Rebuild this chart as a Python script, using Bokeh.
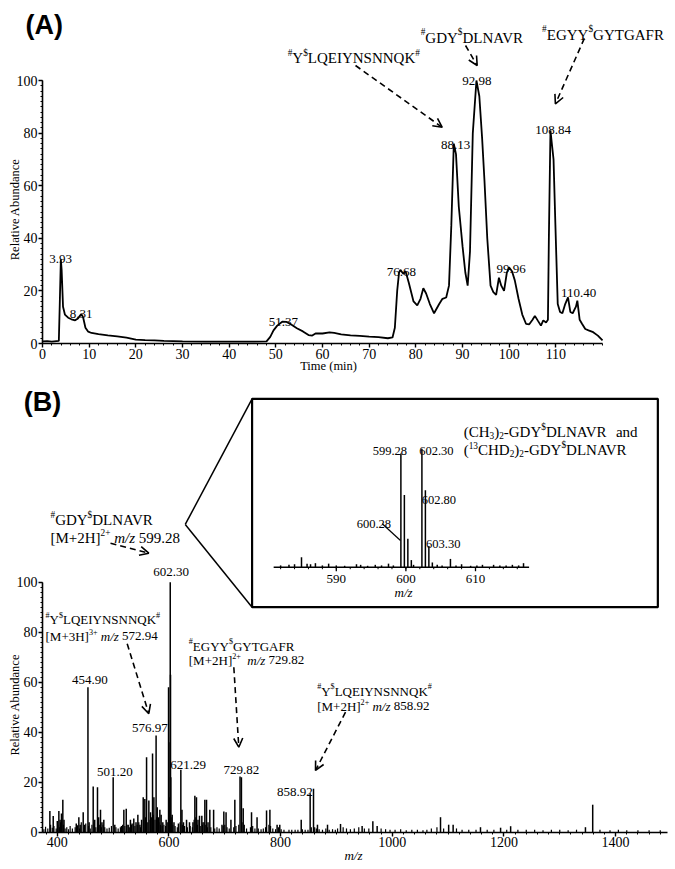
import math
from bokeh.plotting import figure
from bokeh.layouts import column
from bokeh.models import Range1d, FixedTicker, Arrow, OpenHead, ColumnDataSource
from bokeh.core.properties import value
from bokeh.embed import file_html
from bokeh.resources import INLINE

SERIF = "Liberation Serif"
SANS = "Liberation Sans"

# ---------------- DATA ----------------
# (A) chromatogram
rt_min = [0.0, 1.0, 2.0, 3.0, 3.5, 3.7, 3.93, 4.1, 4.4, 4.8, 5.5, 6.2, 7.0, 7.6, 8.0, 8.31, 8.7, 9.2, 9.8,
          10.5, 12, 14, 16, 18, 20, 22, 24, 26, 28, 30, 35, 40, 45, 48, 48.8, 49.5, 50.3, 51.37, 52.3,
          53.2, 54.5, 55.8, 57, 57.8, 58.5, 60, 61.5, 62.5, 64, 66, 68, 70, 72, 74, 75, 75.5, 76.0, 76.4,
          76.68, 77.3, 77.8, 78.5, 79.5, 80.3, 81.0, 81.6, 82.2, 83, 83.9, 85, 85.7, 86.5, 87.1, 87.6,
          88.13, 88.6, 89.2, 90.0, 90.6, 91.1, 91.6, 92.2, 92.98, 93.6, 94.2, 94.7, 95.3, 96.0, 96.6,
          97.2, 97.8, 98.3, 98.9, 99.5, 99.96, 100.6, 101.2, 102, 102.8, 103.6, 104.3, 105.0, 105.5,
          106.2, 106.8, 107.3, 107.9, 108.3, 108.5, 108.84, 109.2, 109.5, 109.9, 110.4, 110.9, 111.4,
          112.0, 112.6, 113.1, 113.6, 114.3, 114.6, 115.1, 115.6, 116.3, 117.0, 118.0, 119.0, 120.0]
rt_abund = [0.8, 0.9, 0.7, 0.9, 1.0, 15, 32, 28, 14, 11, 9.8, 9.2, 8.8, 9.5, 10.5, 11.2, 10, 6, 4.5,
            4, 3.6, 3.1, 2.7, 2.2, 1.5, 1.3, 1.2, 1.0, 0.9, 0.8, 0.7, 0.7, 0.7, 0.8, 2.5, 5, 6.8, 8.3, 8.2,
            7.3, 5.8, 4.6, 3.2, 3.0, 3.8, 3.8, 4.2, 4.0, 3.5, 3.1, 2.9, 2.6, 2.4, 2.0, 2.3, 6, 20, 27,
            28, 26.5, 27.5, 23, 16, 14.5, 17, 21, 19, 15, 11.5, 15, 17, 17.5, 22, 45,
            76, 72, 52, 37, 27, 22, 35, 80, 100, 94, 78, 62, 40, 22, 19.5,
            18.5, 25, 22, 20, 27, 29, 27.5, 24, 17, 11, 7.5, 7.3, 9, 10.5,
            8.5, 6.8, 8.8, 8, 9, 40, 81, 75, 70, 45, 15, 12, 11.5,
            15, 17.5, 12, 11.5, 14, 16.3, 9, 7.5, 5.5, 5, 4.3, 3, 1.2]
rt_label_text = ["3.93", "8.31", "51.37", "76.68", "88.13", "92.98", "108.84", "99.96", "110.40"]
rt_label_x = [3.86, 8.29, 51.6, 76.9, 88.5, 93.1, 109.4, 100.4, 114.9]
rt_label_y = [32.2, 11.1, 8.3, 27.1, 75.5, 99.8, 81.2, 28.4, 19.1]
rt_x_ticks = [0, 10, 20, 30, 40, 50, 60, 70, 80, 90, 100, 110]
rt_x_minor = list(range(0, 121, 2))
pct_ticks = [0, 20, 40, 60, 80, 100]
pct_minor = list(range(0, 101, 2))

# (B) mass spectrum
ms_mz = [386.7, 392.7, 400, 402.8, 405, 407.5, 409.9, 412, 434, 438.6, 441, 446.4, 449, 454.9, 457,
         464.3, 467, 472, 474, 477.4, 480, 483.3, 500.1, 503, 515, 519.2, 523.5, 527, 531, 534, 537,
         541, 544.3, 548, 551, 553.9, 556.8, 559.9, 564, 567, 570.6, 573, 576.97, 579, 581, 583.7, 586,
         589, 595, 599.28, 599.78, 600.28, 602.30, 602.80, 603.30, 603.8, 605.8, 609, 617, 621.29,
         623.3, 626, 631.5, 636.8, 643, 646.4, 649.3, 652, 654.7, 658.9, 661, 664.3, 667.3, 670, 673.2,
         680, 695, 698.3, 702.3, 711, 718, 727.3, 729.82, 733, 747.9, 757.8, 774.8, 780.8, 793.7,
         798.5, 836.9, 852.9, 858.92, 866, 884, 907.3, 946, 965.2, 972.9, 1086.4, 1101, 1109, 1158,
         1194, 1212, 1346, 1359]
ms_abund = [8.5, 6.5, 4.5, 8.5, 5, 7.5, 13, 5, 3.5, 6, 3, 8, 3, 58, 4,
            18.3, 5, 18, 6, 9, 4, 5, 22, 3, 2.5, 9, 9.4, 3, 5, 3.5, 5.5,
            4, 7, 3, 5, 14, 13.3, 30, 12.7, 8, 31.5, 14, 38.7, 10, 6, 9, 7,
            4, 5, 58, 36, 14, 100, 63, 22, 6, 7, 4, 3.5, 25,
            9, 4, 5, 4, 4, 14.6, 14, 5, 6.6, 6.6, 4, 13, 13, 4, 9,
            9, 3, 8.3, 8, 5, 13, 22.3, 22, 9.6, 8, 6, 8.7, 9, 3,
            3, 5, 15.6, 17.4, 3, 3, 3.3, 2.5, 4.4, 2.5, 6, 3, 3, 2,
            1.8, 2.4, 2, 11]
ms_noise_mz = [376, 379, 383, 388, 391, 394, 398, 401, 404, 406, 411, 414, 417, 420, 423, 427, 432, 436,
               440, 443, 448, 451, 456, 459, 462, 466, 469, 476, 479, 482, 485, 489, 493, 497, 505, 509,
               513, 517, 521, 525, 529, 533, 539, 543, 546, 549, 555, 558, 562, 566, 569, 572, 575, 578,
               582, 585, 588, 591, 594, 597, 601, 604, 607, 611, 615, 620, 624, 628, 633, 638, 642, 645,
               648, 651, 656, 660, 663, 666, 669, 675, 682, 686, 690, 697, 700, 704, 708, 716, 720, 725,
               731, 735, 739, 746, 750, 754, 760, 765, 769, 773, 779, 782, 786, 791, 796, 801, 806, 815,
               820, 826, 831, 839, 844, 849, 855, 861, 864, 869, 875, 881, 887, 893, 898, 902, 912, 918,
               925, 932, 940, 950, 958, 980, 988, 996, 1005, 1015, 1025, 1035, 1045, 1055, 1062, 1070,
               1080, 1092, 1115, 1125, 1137, 1150, 1170, 1182, 1205, 1225, 1240, 1255, 1270, 1285, 1300,
               1315, 1330, 1372, 1390, 1405, 1420, 1440, 1460, 1480]
ms_noise_abund = [1.2, 2.2, 1.5, 3, 1.8, 2.5, 1.5, 3, 2, 4, 3, 1.5, 2, 1.2, 2.5, 1.5, 2, 2.8,
                  1.5, 4, 2, 3.5, 2.5, 1.5, 3, 4, 2, 3, 2, 3, 2, 1.5, 1.8, 2.5, 2, 1.5,
                  2, 3, 2.5, 3, 2, 3, 2.5, 3, 4, 2, 5, 6, 4, 5, 6, 7, 5, 6,
                  4, 3, 2.5, 3, 2.5, 4, 5, 4, 3, 2.5, 2, 4, 3, 2.5, 2, 2.5, 2, 5,
                  6, 3, 2.5, 3, 4, 3, 2, 2, 1.5, 2, 1.5, 2.5, 3, 2, 1.5, 2, 2.5, 3,
                  4, 3, 1.5, 2, 2.5, 1.5, 1.5, 1.2, 1.5, 2, 3, 2.5, 1.5, 1.2, 2, 1.2, 1, 1,
                  1, 1, 1, 1.2, 1, 1, 2, 2, 1.5, 1.2, 1, 1.5, 1, 1.2, 1, 1.5, 2, 1.5,
                  1.2, 1.5, 2, 1.5, 1.5, 1.5, 1.2, 1, 1, 1.2, 0.8, 1, 1, 0.8, 1, 1.5,
                  2, 1.5, 1.5, 1, 1, 1, 1, 1, 1, 1, 1, 1, 0.8, 1, 1,
                  0.8, 1, 1, 0.8, 1, 0.8, 0.8, 0.8, 0.8]
ms_label_text = ["454.90", "576.97", "602.30", "501.20", "621.29", "729.82", "858.92"]
ms_label_x = [458.2, 565.7, 604.0, 503.0, 634.5, 729.9, 825.4]
ms_label_y = [60.9, 41.6, 104.2, 24.2, 26.9, 24.9, 16.0]
ms_x_ticks = [400, 600, 800, 1000, 1200, 1400]
ms_x_minor = list(range(380, 1490, 20))

# inset spectrum
in_mz = [582.0, 583.2, 584.0, 585.0, 585.8, 586.3, 587.0, 588.0, 588.9, 590, 591.2, 592.9, 593.5, 594.5,
         595.6, 596.5, 597.5, 598.2, 599.28, 599.78, 600.28, 600.78, 601.1, 602.30, 602.80, 603.30,
         603.80, 604.5, 605.2, 606.4, 607.2, 608.0, 609.3, 610.2, 611.0, 612.6, 613.5, 614.4, 615.3,
         616.2, 616.9]
in_abund = [1.5, 2, 2.5, 8.4, 3, 2.5, 3.4, 1.5, 3, 1.5, 1.2, 2.5, 2, 1.2,
            2, 1.5, 3, 1.5, 96, 61, 24, 6, 2, 100, 65, 18,
            4, 2, 1.5, 7, 1.5, 2.5, 1.2, 1.5, 2, 2, 1.5, 1.5, 2,
            1.5, 3.4]
in_label_text = ["599.28", "602.30", "602.80", "600.28", "603.30"]
in_label_x = [597.69, 604.37, 604.73, 595.39, 605.36]
in_label_y = [98.4, 98.4, 57.0, 36.7, 19.8]
in_ticks = [590, 600, 610]
in_minor = list(range(582, 618, 2))

# ---------------- text metrics (Times / Liberation Serif, per 1000 em) ----------------
TW = {' ': 250, '#': 500, '$': 500, '(': 333, ')': 333, '+': 564, '-': 333, '.': 250, '/': 278,
      '[': 333, ']': 333,
      'A': 722, 'B': 667, 'C': 667, 'D': 722, 'E': 611, 'F': 556, 'G': 722, 'H': 722, 'I': 333,
      'K': 722, 'L': 611, 'M': 889, 'N': 722, 'Q': 722, 'R': 667, 'S': 556, 'T': 611, 'V': 722, 'Y': 722,
      'a': 444, 'd': 500, 'n': 500, 'm': 778, 'z': 444}
TWI = {'m': 722, '/': 278, 'z': 389}
for _d in "0123456789":
    TW[_d] = 500


def text_w(s, italic=False):
    tot = 0
    for ch in s:
        if italic and ch in TWI:
            tot += TWI[ch]
        else:
            tot += TW.get(ch, 500)
    return tot


def rich_text(p, x, y, segs, size, align="left", **rng):
    cur = 0.0
    items = []
    for txt, kind in segs:
        if kind == "sp":
            cur += 0.25 * size * len(txt)
            continue
        fs = size * 0.62 if kind in ("sup", "sub") else size
        dy = -0.36 * size if kind == "sup" else (0.2 * size if kind == "sub" else 0.0)
        style = "italic" if kind == "i" else "normal"
        items.append((txt, cur, dy, fs, style))
        cur += text_w(txt, style == "italic") * fs / 1000.0
    shift = -cur / 2.0 if align == "center" else 0.0
    groups = {}
    for txt, off, dy, fs, style in items:
        g = groups.setdefault((round(fs, 1), style), dict(x=[], y=[], text=[], xo=[], yo=[]))
        g["x"].append(x); g["y"].append(y); g["text"].append(txt)
        g["xo"].append(off + shift); g["yo"].append(dy)
    for (fs, style), g in groups.items():
        p.text(x="x", y="y", text="text", x_offset="xo", y_offset="yo", source=ColumnDataSource(g),
               text_font=value(SERIF), text_font_size=f"{fs}px", text_font_style=style,
               text_align="left", text_baseline="alphabetic", text_color="black", **rng)


def plain_text(p, x, y, txt, size, font=SERIF, style="normal", align="center", angle=0.0, **rng):
    p.text(x=[x], y=[y], text=[txt], angle=angle, text_font=value(font), text_font_size=size,
           text_font_style=style, text_align=align, text_baseline="middle", text_color="black", **rng)


def style_axis(ax, ticks, minor, bounds, fixed, size="14px"):
    ax.ticker = FixedTicker(ticks=ticks, minor_ticks=minor)
    ax.bounds = bounds
    ax.fixed_location = fixed
    ax.axis_line_width = 1.6
    ax.axis_line_color = "black"
    ax.major_tick_line_width = 1.4
    ax.minor_tick_line_width = 1.0
    ax.major_tick_out = 4
    ax.major_tick_in = 0
    ax.minor_tick_out = 2
    ax.minor_tick_in = 0
    ax.major_label_standoff = 1
    ax.major_label_text_font = SERIF
    ax.major_label_text_font_size = size
    ax.major_label_text_color = "black"


def arrow(p, xs, ys, xe, ye, **kw):
    p.add_layout(Arrow(end=OpenHead(size=9, line_width=1.6, line_color="black"),
                       x_start=xs, y_start=ys, x_end=xe, y_end=ye,
                       line_width=1.6, line_color="black", line_dash="6 4", **kw))


def make_fig(w, h, xr, yr):
    p = figure(width=w, height=h, output_backend="svg", toolbar_location=None, title=None,
               x_range=xr, y_range=yr, min_border=0, min_border_left=0, min_border_right=0,
               min_border_top=0, min_border_bottom=0)
    p.grid.visible = False
    p.outline_line_color = None
    return p


# ---------------- PANEL A ----------------
# frame covers the whole canvas; the axes sit at data 0 (fixed_location)
A_W, A_H = 675, 383
A_PX_PER_MIN, A_PX_PER_PCT = 4.667, 2.63
A_ORIGIN_X, A_ORIGIN_Y = 42.0, 343.0        # canvas px of (0 min, 0 %)
ax0 = -A_ORIGIN_X / A_PX_PER_MIN
ay0 = -(A_H - A_ORIGIN_Y) / A_PX_PER_PCT
pA = make_fig(A_W, A_H,
              Range1d(ax0, ax0 + A_W / A_PX_PER_MIN),
              Range1d(ay0, ay0 + A_H / A_PX_PER_PCT))
style_axis(pA.xaxis[0], rt_x_ticks, rt_x_minor, (0, 120), 0)
style_axis(pA.yaxis[0], pct_ticks, pct_minor, (0, 100), 0)

pA.line(rt_min, rt_abund, line_width=1.8, line_color="black")
pA.text(x=rt_label_x, y=rt_label_y, text=rt_label_text, text_font=value(SERIF), text_font_size="13px",
        text_align="center", text_baseline="alphabetic", text_color="black")

YLQ = [("#", "sup"), ("Y", "n"), ("$", "sup"), ("LQEIYNSNNQK", "n"), ("#", "sup")]
GDY = [("#", "sup"), ("GDY", "n"), ("$", "sup"), ("DLNAVR", "n")]
EGYY = [("#", "sup"), ("EGYY", "n"), ("$", "sup"), ("GYTGAFR", "n")]
rich_text(pA, 66.7, 108.4, YLQ, 15, "center")
rich_text(pA, 92.2, 116.3, GDY, 15, "center")
rich_text(pA, 120.1, 117.4, EGYY, 15, "center")
arrow(pA, 67.07, 105.7, 85.65, 82.2)
arrow(pA, 90.64, 113.3, 93.14, 105.7)
arrow(pA, 116.1, 116.0, 109.9, 91.1)

plain_text(pA, -3.64, 121.2, "(A)", "27px", font=SANS, style="bold", align="left")
plain_text(pA, -5.79, 51.0, "Relative Abundance", "12.5px", angle=math.pi / 2)
plain_text(pA, 61.3, -8.4, "Time (min)", "12.5px")

# ---------------- PANEL B ----------------
B_W, B_H = 675, 486
B_PX_PER_MZ, B_PX_PER_PCT = 0.5583, 2.5
B_ORIGIN_MZ = 373.5
B_ORIGIN_X, B_ORIGIN_Y = 42.0, 448.7        # canvas px of (373.5 m/z, 0 %)
bx0 = B_ORIGIN_MZ - B_ORIGIN_X / B_PX_PER_MZ
by0 = -(B_H - B_ORIGIN_Y) / B_PX_PER_PCT
pB = make_fig(B_W, B_H,
              Range1d(bx0, bx0 + B_W / B_PX_PER_MZ),
              Range1d(by0, by0 + B_H / B_PX_PER_PCT))
style_axis(pB.xaxis[0], ms_x_ticks, ms_x_minor, (B_ORIGIN_MZ, 1493), 0)
style_axis(pB.yaxis[0], pct_ticks, pct_minor, (0, 100), B_ORIGIN_MZ)

pB.segment(x0=ms_noise_mz, y0=0, x1=ms_noise_mz, y1=ms_noise_abund, line_width=1.2, line_color="black")
pB.segment(x0=ms_mz, y0=0, x1=ms_mz, y1=ms_abund, line_width=1.5, line_color="black")
pB.text(x=ms_label_x, y=ms_label_y, text=ms_label_text, text_font=value(SERIF), text_font_size="13px",
        text_align="center", text_baseline="alphabetic", text_color="black")

rich_text(pB, 387.8, 124.7, GDY, 15)
rich_text(pB, 387.8, 117.8, [("[M+2H]", "n"), ("2+", "sup"), (" ", "sp"), ("m/z", "i"), (" ", "sp"),
                             ("599.28", "n")], 15)
rich_text(pB, 378.9, 85.0, YLQ, 13)
rich_text(pB, 378.9, 78.3, [("[M+3H]", "n"), ("3+", "sup"), (" ", "sp"), ("m/z", "i"), (" ", "sp"),
                            ("572.94", "n")], 13)
rich_text(pB, 635.5, 74.3, EGYY, 13)
rich_text(pB, 635.5, 68.7, [("[M+2H]", "n"), ("2+", "sup"), ("  ", "sp"), ("m/z", "i"), (" ", "sp"),
                            ("729.82", "n")], 13)
rich_text(pB, 865.5, 56.3, YLQ, 13)
rich_text(pB, 865.5, 50.3, [("[M+2H]", "n"), ("2+", "sup"), (" ", "sp"), ("m/z", "i"), (" ", "sp"),
                            ("858.92", "n")], 13)
arrow(pB, 495.3, 115.6, 563.9, 111.6)
arrow(pB, 525.2, 75.4, 563.9, 47.4)
arrow(pB, 716.2, 66.0, 725.1, 34.0)
arrow(pB, 916.2, 48.0, 862.5, 24.7)

plain_text(pB, 340.0, 172.0, "(B)", "27px", font=SANS, style="bold", align="left")
plain_text(pB, 325.1, 51.0, "Relative Abundance", "12.5px", angle=math.pi / 2)
plain_text(pB, 930.5, -9.3, "m/z", "13px", style="italic")

# inset, drawn on its own m/z and abundance scales laid over the upper right of panel B
IN_PX_PER_MZ, IN_PX_PER_PCT = 6.96, 1.184
IN_600_X, IN_BASE_Y = 405.4, 183.7          # canvas px of (600 m/z, 0 %) in the inset
ix0 = 600 - IN_600_X / IN_PX_PER_MZ
iy1 = IN_BASE_Y / IN_PX_PER_PCT
pB.extra_x_ranges = {"ix": Range1d(ix0, ix0 + B_W / IN_PX_PER_MZ)}
pB.extra_y_ranges = {"iy": Range1d(iy1 - B_H / IN_PX_PER_PCT, iy1)}
IR = dict(x_range_name="ix", y_range_name="iy")
BOX_L, BOX_R, BOX_B, BOX_T = 577.9, 636.2, -33.8, 142.2
CALLOUT = (568.3, 36.1)
pB.segment(x0=[CALLOUT[0], CALLOUT[0]], y0=[CALLOUT[1], CALLOUT[1]], x1=[BOX_L, BOX_L], y1=[BOX_T, BOX_B],
           line_width=1.5, line_color="black", **IR)
pB.quad(left=[BOX_L], right=[BOX_R], bottom=[BOX_B], top=[BOX_T], fill_color="white",
        line_color="black", line_width=2.2, **IR)
pB.segment(x0=[581.0], y0=[0], x1=[617.7], y1=[0], line_width=1.6, line_color="black", **IR)
pB.segment(x0=in_ticks, y0=0, x1=in_ticks, y1=-3.4, line_width=1.3, line_color="black", **IR)
pB.segment(x0=in_minor, y0=0, x1=in_minor, y1=-1.7, line_width=1.0, line_color="black", **IR)
pB.segment(x0=in_mz, y0=0, x1=in_mz, y1=in_abund, line_width=1.5, line_color="black", **IR)
pB.text(x=in_ticks, y=-9.7, text=[str(t) for t in in_ticks], text_font=value(SERIF),
        text_font_size="13px", text_align="center", text_baseline="middle", text_color="black", **IR)
plain_text(pB, 599.66, -21.1, "m/z", "13px", style="italic", **IR)
pB.text(x=in_label_x, y=in_label_y, text=in_label_text, text_font=value(SERIF), text_font_size="12.5px",
        text_align="center", text_baseline="alphabetic", text_color="black", **IR)
pB.segment(x0=[596.6], y0=[36.7], x1=[599.22], y1=[22.5], line_width=1.2, line_color="black", **IR)
rich_text(pB, 608.3, 114.0, [("(CH", "n"), ("3", "sub"), (")", "n"), ("2", "sub"), ("-GDY", "n"),
                             ("$", "sup"), ("DLNAVR", "n"), ("  ", "sp"), ("and", "n")], 15, **IR)
rich_text(pB, 608.3, 98.6, [("(", "n"), ("13", "sup"), ("CHD", "n"), ("2", "sub"), (")", "n"),
                            ("2", "sub"), ("-GDY", "n"), ("$", "sup"), ("DLNAVR", "n")], 15, **IR)

layout = column(pA, pB, spacing=0)
open("out.html", "w").write(file_html(layout, INLINE))
